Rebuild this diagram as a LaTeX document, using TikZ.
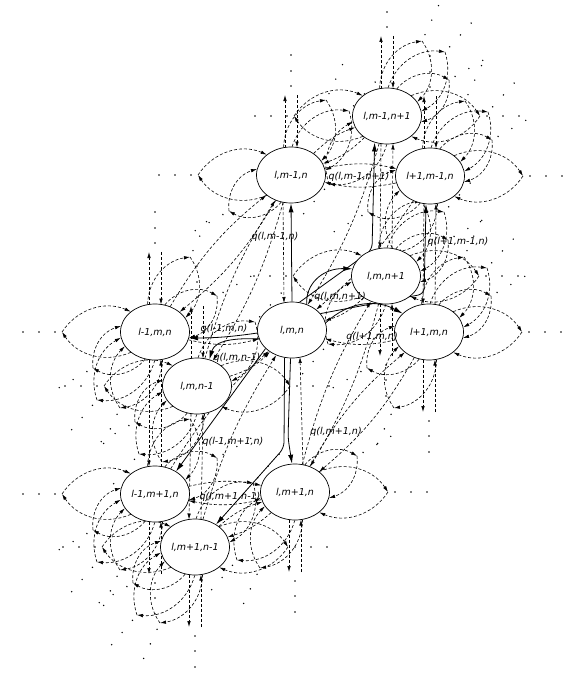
\documentclass[tikz,border=0pt]{standalone}
\usepackage{fontspec}
\setmainfont{DejaVu Sans}[ItalicFont={DejaVu Sans Oblique}]
\usetikzlibrary{shapes.geometric,arrows.meta,calc}
\pgfdeclarelayer{bg}
\pgfsetlayers{bg,main}
\tikzset{
 st/.style={draw, ellipse, fill=white, minimum width=69pt, minimum height=56pt, inner sep=0pt, line width=0.7pt, font=\fontsize{9.5}{11}\selectfont\itshape},
 lbl/.style={font=\fontsize{9.5}{11}\selectfont\itshape, inner sep=1pt},
 sol/.style={line width=0.8pt, rounded corners=6pt, -{Latex[length=9pt,width=5pt]}},
 dl/.style={line width=0.6pt, dash pattern=on 3pt off 2pt, -{Latex[length=6pt,width=3.5pt]}},
}
\newcommand\mystub[3]{%
  \coordinate (st) at ($(#1)+(#2,#3)$);
  \draw[dl] (#1) to[bend left=40] (st);
  \draw[dl] (st) to[bend left=40] (#1);
  \foreach \dd in {7,23,39}{\fill ($(st)!-\dd pt!(#1)$) circle (0.8pt);}
}
\newcommand\myvstub[2]{%
  \draw[dl] ($(#1)+(-6,#2*27.5)$) -- ($(#1)+(-6,#2*80)$);
  \draw[dl] ($(#1)+(6,#2*80)$) -- ($(#1)+(6,#2*27.5)$);
  \foreach \dd in {89,104,120}{\fill ($(#1)+(0,#2*\dd)$) circle (0.8pt);}
}
\newcommand\mypair[3]{%
  \draw[dl] (#1) to[bend left=#3] (#2);
  \draw[dl] (#2) to[bend left=#3] (#1);
}
\newcommand\myvpair[2]{%
  \draw[dl] ($(#1)+(-6,27.5)$) -- ($(#2)+(-6,-27.5)$);
  \draw[dl] ($(#2)+(6,-27.5)$) -- ($(#1)+(6,27.5)$);
}
\begin{document}
\begin{tikzpicture}[x=1pt,y=-1pt]
\useasboundingbox (0,0) rectangle (580,677);
% states
\node[st] (A) at (387,116) {l,m-1,n+1};
\node[st] (B) at (291,175) {l,m-1,n};
\node[st] (C) at (430,176) {l+1,m-1,n};
\node[st] (D) at (386,276) {l,m,n+1};
\node[st] (E) at (155,332) {l-1,m,n};
\node[st] (F) at (292,330) {l,m,n};
\node[st] (G) at (429,332) {l+1,m,n};
\node[st] (H) at (197,386) {l,m,n-1};
\node[st] (I) at (155,494) {l-1,m+1,n};
\node[st] (J) at (295,492) {l,m+1,n};
\node[st] (K) at (195,547) {l,m+1,n-1};
% rate labels
\node[lbl] (q1) at (275,237) {q(l,m-1,n)};
\node[lbl] (q2) at (359,177) {q(l,m-1,n+1)};
\node[lbl] (q3) at (458,242) {q(l+1,m-1,n)};
\node[lbl] (q4) at (340,297) {q(l,m,n+1)};
\node[lbl] (q5) at (372,337) {q(l+1,m,n)};
\node[lbl] (q6) at (224,329) {q(l-1,m,n)};
\node[lbl] (q7) at (237,358) {q(l,m,n-1)};
\node[lbl] (q8) at (233,442) {q(l-1,m+1,n)};
\node[lbl] (q9) at (336,432) {q(l,m+1,n)};
\node[lbl] (q10) at (230,497) {q(l,m+1,n-1)};
\begin{pgfonlayer}{bg}
% stubs towards states outside the picture
\myvstub{A}{-1}\mystub{A}{-93}{0}\mystub{A}{93}{0}\mystub{A}{62}{-36}\mystub{A}{35}{-75}\mystub{A}{58}{-64}\mystub{A}{-58}{68}
\myvstub{B}{-1}\mystub{B}{-93}{0}\mystub{B}{-62}{36}\mystub{B}{35}{-75}\mystub{B}{58}{-64}
\myvstub{C}{-1}\mystub{C}{93}{0}\mystub{C}{62}{-36}\mystub{C}{-62}{36}\mystub{C}{35}{-75}\mystub{C}{-35}{76}\mystub{C}{58}{-64}
\myvstub{D}{1}\mystub{D}{-93}{0}\mystub{D}{93}{0}\mystub{D}{62}{-36}\mystub{D}{35}{-75}\mystub{D}{58}{-64}\mystub{D}{-58}{68}
\myvstub{E}{-1}\mystub{E}{-93}{0}\mystub{E}{62}{-36}\mystub{E}{-62}{36}\mystub{E}{35}{-75}\mystub{E}{-35}{76}\mystub{E}{-58}{68}
\myvstub{G}{1}\mystub{G}{93}{0}\mystub{G}{62}{-36}\mystub{G}{-62}{36}\mystub{G}{35}{-75}\mystub{G}{-35}{76}\mystub{G}{58}{-64}
\myvstub{H}{-1}\mystub{H}{-93}{0}\mystub{H}{93}{0}\mystub{H}{-62}{36}\mystub{H}{-35}{76}\mystub{H}{58}{-64}\mystub{H}{-58}{68}
\myvstub{I}{1}\mystub{I}{-93}{0}\mystub{I}{62}{-36}\mystub{I}{-62}{36}\mystub{I}{35}{-75}\mystub{I}{-35}{76}\mystub{I}{-58}{68}
\myvstub{J}{1}\mystub{J}{93}{0}\mystub{J}{62}{-36}\mystub{J}{-35}{76}\mystub{J}{-58}{68}
\myvstub{K}{1}\mystub{K}{-93}{0}\mystub{K}{93}{0}\mystub{K}{-62}{36}\mystub{K}{-35}{76}\mystub{K}{58}{-64}\mystub{K}{-58}{68}
% transitions between outer states
\myvpair{A}{D}\myvpair{C}{G}\myvpair{E}{I}\myvpair{H}{K}
\mypair{A}{B}{12}\mypair{B}{C}{12}\mypair{B}{E}{10}\mypair{B}{H}{8}
\mypair{D}{J}{8}\mypair{G}{J}{10}\mypair{I}{J}{12}\mypair{J}{K}{12}
% transitions back into (l,m,n)
\draw[dl] ($(B)+(-8,27)$) -- ($(F)+(-8,-27)$);
\draw[dl] ($(J)+(8,-27)$) -- ($(F)+(8,27)$);
\draw[dl] (A) to[bend left=8] (F);
\draw[dl] (C) to[bend left=8] (F);
\draw[dl] (D) to[bend left=14] (F);
\draw[dl] (E) to[bend right=14] (F);
\draw[dl] (G) to[bend left=14] (F);
\draw[dl] (H) to[bend right=14] (F);
\draw[dl] (I) to[bend left=8] (F);
\draw[dl] (K) to[bend left=8] (F);
% transitions out of (l,m,n)
\draw[sol] (F.north) -- (B.south);
\draw[sol] (F.75) -- (372,250) -- (A.245);
\draw[sol] (F.30) -- (424,294) -- (C.262);
\draw[sol] (F.60) .. controls (305,285) and (322,268) .. (D.168);
\draw[sol] (F.12) .. controls (350,300) and (378,300) .. (G.145);
\draw[sol] (F.185) to[bend left=4] (E.350);
\draw[sol] (F.195) .. controls (235,338) and (215,340) .. (H.65);
\draw[sol] (F.215) -- (I.47);
\draw[sol] (F.267) -- (288,438) -- (J.96);
\draw[sol] (F.255) -- (284,448) -- (K.47);
\end{pgfonlayer}
\end{tikzpicture}
\end{document}
